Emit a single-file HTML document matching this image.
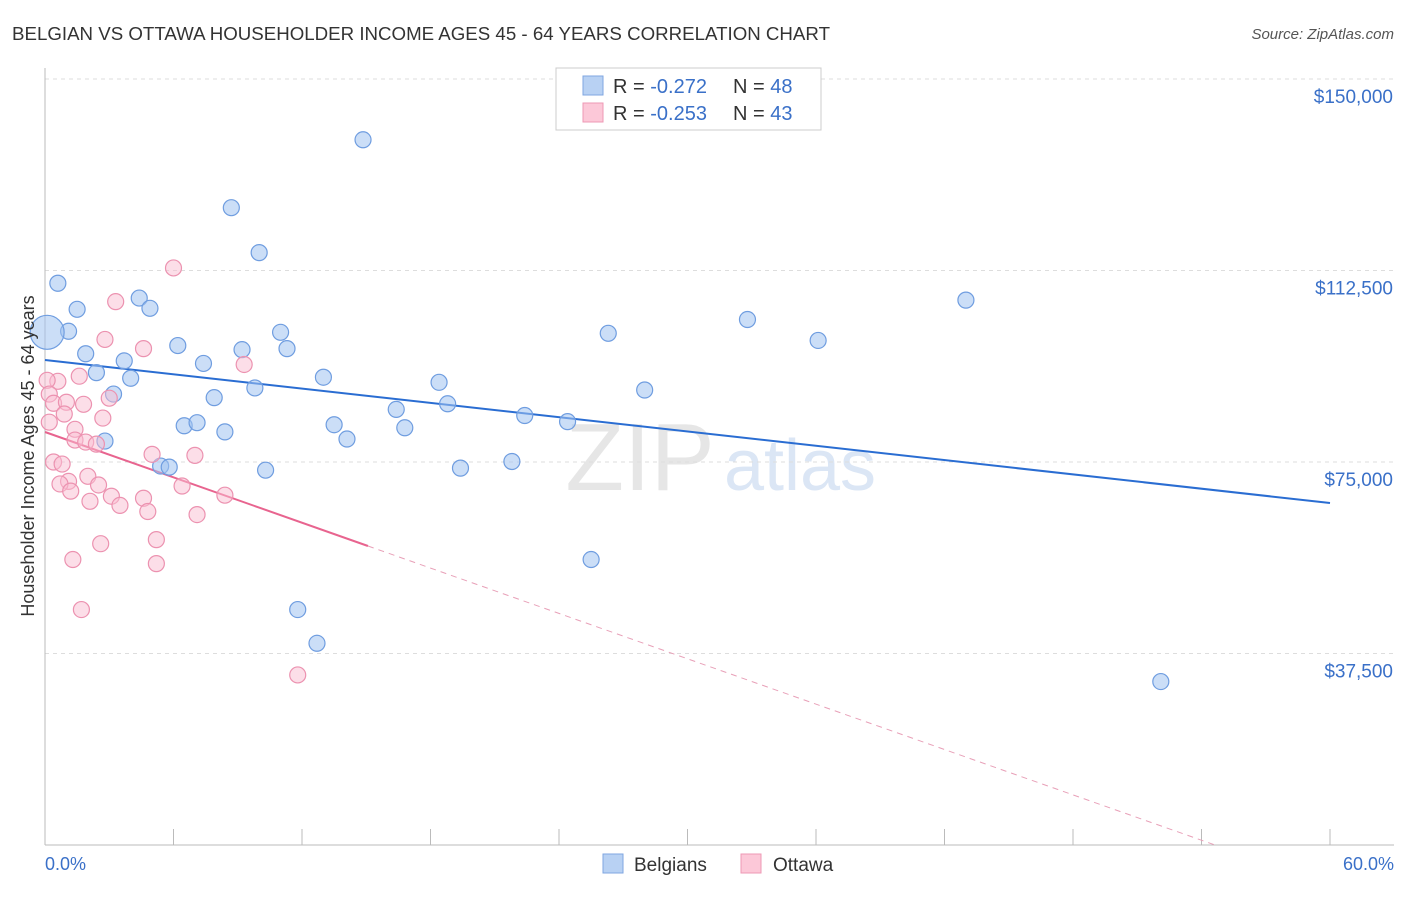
<!DOCTYPE html>
<html><head><meta charset="utf-8"><style>
body{margin:0;background:#fff;font-family:"Liberation Sans",sans-serif;}
svg text{font-family:"Liberation Sans",sans-serif;}
</style></head><body>
<svg id="c" width="1406" height="892" xmlns="http://www.w3.org/2000/svg">
<text x="12" y="40" font-size="18" fill="#333" textLength="818" lengthAdjust="spacingAndGlyphs">BELGIAN VS OTTAWA HOUSEHOLDER INCOME AGES 45 - 64 YEARS CORRELATION CHART</text>
<text x="1394" y="39" font-size="15" fill="#555" font-style="italic" text-anchor="end">Source: ZipAtlas.com</text>
<text x="640" y="490" font-size="96" fill="#e6e6e6" font-family="Liberation Serif" text-anchor="middle">ZIP</text>
<text x="800" y="490" font-size="72" fill="#dbe6f5" text-anchor="middle">atlas</text>
<g id="grid"></g><g id="axes"></g><g id="trend"></g><g id="pts"></g>
<text transform="translate(34,456) rotate(-90)" font-size="18" fill="#333" text-anchor="middle">Householder Income Ages 45 - 64 years</text>
<text x="45" y="870" font-size="18" fill="#3a70c8">0.0%</text>
<text x="1394" y="870" font-size="18" fill="#3a70c8" text-anchor="end">60.0%</text>
<g>
<rect x="556" y="68" width="265" height="62" fill="#fff" stroke="#ccc"/>
<rect x="583" y="76" width="20" height="19" fill="#b8d1f3" stroke="#7fa6e0"/>
<rect x="583" y="103" width="20" height="19" fill="#fcc8d8" stroke="#ee98b4"/>
<text x="613" y="93" font-size="20" fill="#333">R = <tspan fill="#3a70c8">-0.272</tspan><tspan x="733">N = </tspan><tspan fill="#3a70c8">48</tspan></text>
<text x="613" y="120" font-size="20" fill="#333">R = <tspan fill="#3a70c8">-0.253</tspan><tspan x="733">N = </tspan><tspan fill="#3a70c8">43</tspan></text>
</g>
<g>
<rect x="603" y="854" width="20" height="19" fill="#b8d1f3" stroke="#7fa6e0"/>
<text x="634" y="871" font-size="19" fill="#333">Belgians</text>
<rect x="741" y="854" width="20" height="19" fill="#fcc8d8" stroke="#ee98b4"/>
<text x="773" y="871" font-size="19" fill="#333">Ottawa</text>
</g>
</svg>
<script>
const yTicks=[37500,75000,112500,150000];
const yTickLabels=["$37,500","$75,000","$112,500","$150,000"];
const blueX=[14.85,8.7,10.0,0.6,4.4,1.5,4.9,1.1,11.0,26.3,32.8,43.0,36.1,6.2,9.2,11.3,1.9,3.7,7.4,2.4,4.0,13.0,18.4,3.2,9.8,28.0,7.9,18.8,16.4,22.4,24.4,6.5,7.1,8.4,13.5,16.8,14.1,2.8,21.8,19.4,5.4,5.8,10.3,25.5,11.8,12.7,52.1,0.1];
const blueY=[138100,124800,116000,110000,107100,104900,105100,100600,100400,100200,102900,106700,98800,97800,97000,97200,96200,94800,94300,92500,91400,91600,90600,88300,89500,89100,87600,86400,85300,84100,82900,82100,82700,80900,82300,81700,79500,79100,75100,73800,74200,74000,73400,55900,46100,39500,32000,100400];
const pinkX=[6.0,3.3,2.8,4.6,9.3,1.6,0.6,0.1,0.2,0.4,1.0,1.8,3.0,0.9,2.7,0.2,1.4,1.4,1.9,2.4,5.0,7.0,0.4,0.8,6.4,2.0,1.1,8.4,0.7,2.5,1.2,3.1,4.6,2.1,3.5,4.8,7.1,5.2,2.6,1.3,5.2,1.7,11.8];
const pinkY=[113000,106400,99000,97200,94100,91800,90800,91000,88300,86500,86700,86300,87500,84400,83600,82800,81400,79300,78900,78500,76500,76300,75000,74600,70300,72200,71200,68500,70700,70500,69300,68300,67900,67300,66500,65300,64700,59800,59000,55900,55100,46100,33300];
const blueLine=[94974,66971];
const pinkLine=[80875,58551,15.08];
const NS="http://www.w3.org/2000/svg";
const X=v=>45+v/60*1285, Y=v=>845-v/37500*191.5;
function el(t,a,p){const e=document.createElementNS(NS,t);for(const k in a)e.setAttribute(k,a[k]);document.getElementById(p).appendChild(e);return e;}
yTicks.forEach((t,i)=>{
 let l=el('line',{x1:45,x2:1394,y1:Y(t),y2:Y(t),stroke:'#ddd','stroke-dasharray':'4,4'},'grid');
 
 
 let tx=el('text',{x:1393,y:Y(t)+24,'font-size':19,fill:'#3a70c8','text-anchor':'end'},'grid');
 tx.textContent=yTickLabels[i];
 
 
});
let ax=el('line',{x1:45,x2:1394,y1:845,y2:845,stroke:'#bbb'},'axes');


let ay=el('line',{x1:45,x2:45,y1:68,y2:845,stroke:'#bbb'},'axes');


for(let i=0;i<=10;i++){let t=el('line',{x1:X(i*6),x2:X(i*6),y1:829,y2:845,stroke:'#bbb'},'axes');
 
 }
let bl=el('line',{x1:X(0),y1:Y(blueLine[0]),x2:X(60),y2:Y(blueLine[1]),stroke:'#2a6dd2','stroke-width':2},'trend');


const slope=(pinkLine[1]-pinkLine[0])/pinkLine[2];
const x0=-pinkLine[0]/slope;
let pl=el('line',{x1:X(0),y1:Y(pinkLine[0]),x2:X(pinkLine[2]),y2:Y(pinkLine[1]),stroke:'#e8648f','stroke-width':2},'trend');


let pd=el('line',{x1:X(pinkLine[2]),y1:Y(pinkLine[1]),x2:X(x0),y2:Y(0),stroke:'#e8a0b8','stroke-width':1,'stroke-dasharray':'6,5'},'trend');


blueX.forEach((x,i)=>{const big=i===blueX.length-1;
 let c=el('circle',{cx:X(x),cy:Y(blueY[i]),r:big?17:8,fill:'rgba(160,195,240,0.55)',stroke:'#6f9de0','stroke-width':1.2},'pts');
 
 });
pinkX.forEach((x,i)=>{
 let c=el('circle',{cx:X(x),cy:Y(pinkY[i]),r:8,fill:'rgba(250,190,210,0.5)',stroke:'#ec92b0','stroke-width':1.2},'pts');
 
 });
</script>
</body></html>
